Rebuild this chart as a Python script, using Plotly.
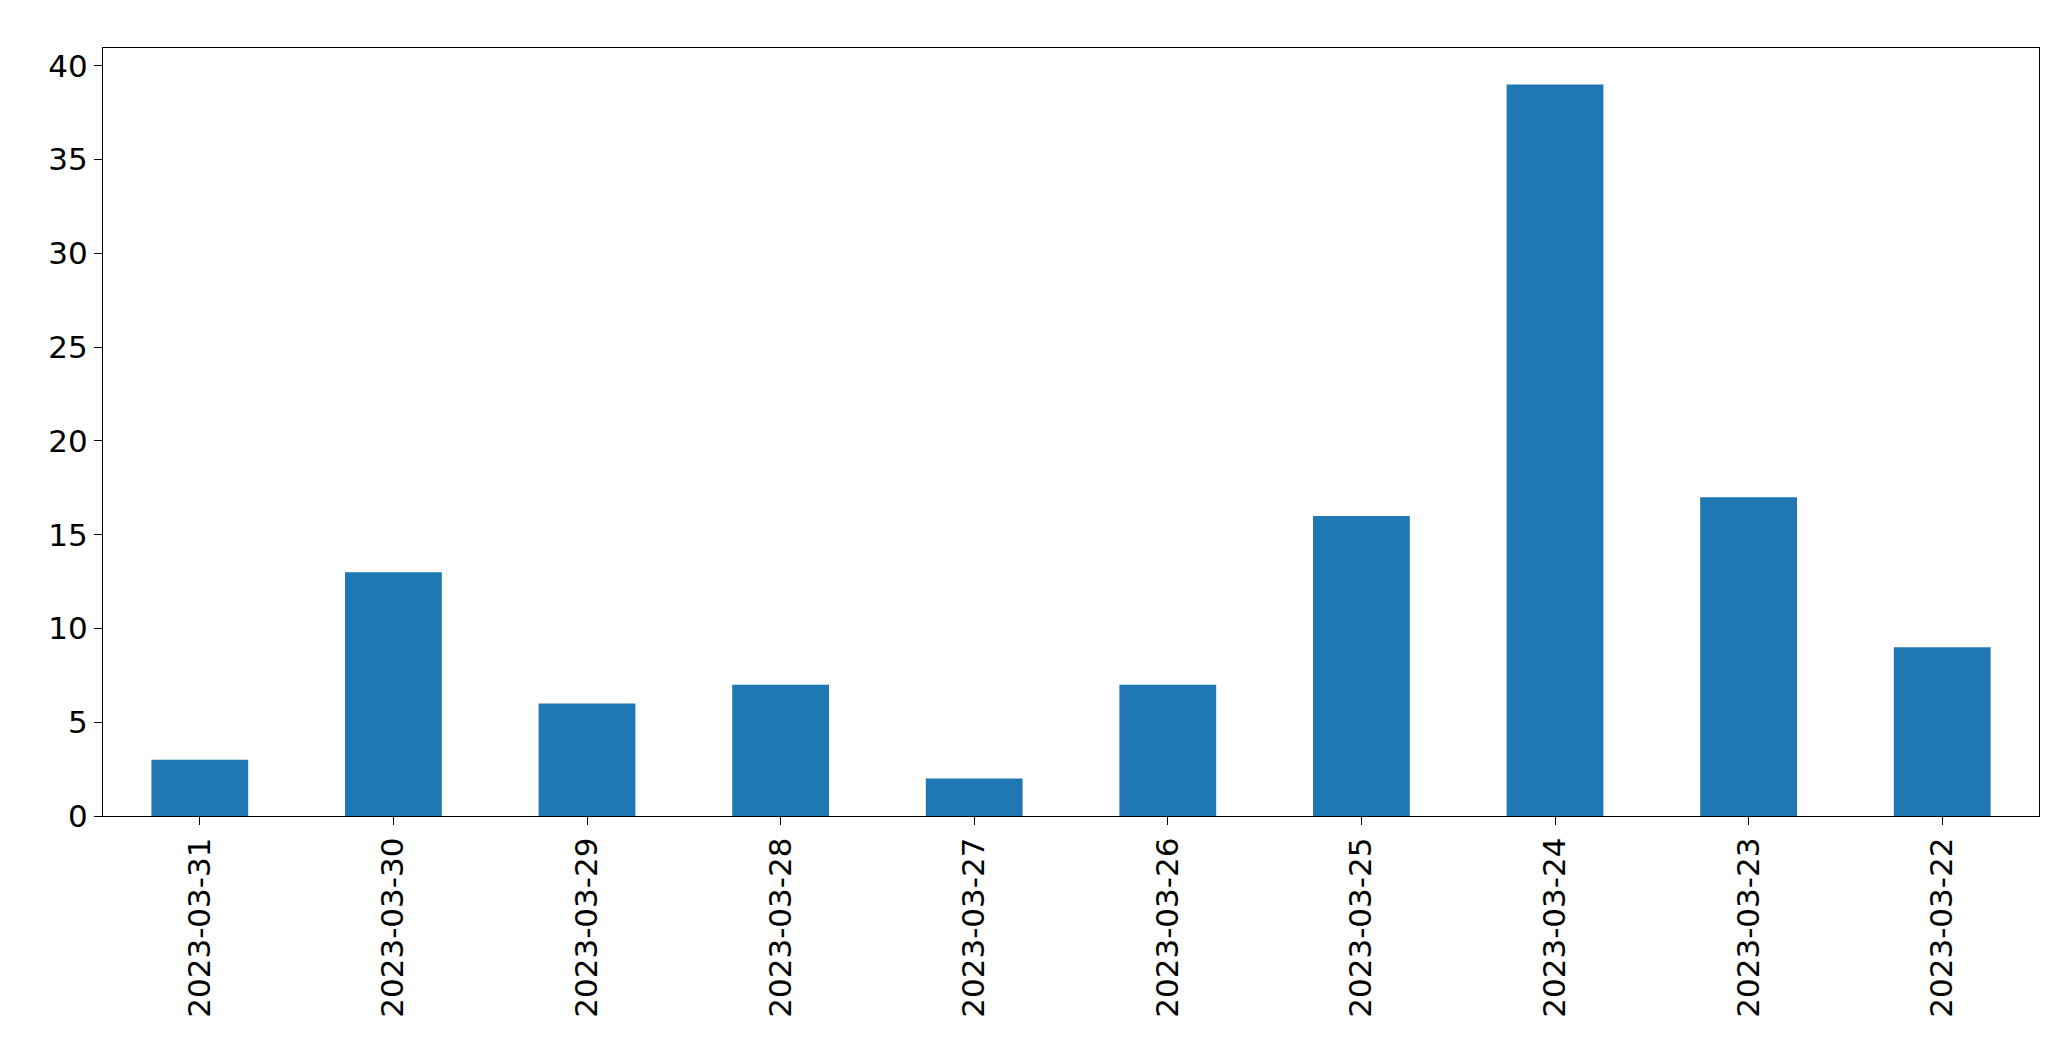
import plotly.graph_objects as go

dates = ["2023-03-31","2023-03-30","2023-03-29","2023-03-28","2023-03-27",
         "2023-03-26","2023-03-25","2023-03-24","2023-03-23","2023-03-22"]
counts = [3, 13, 6, 7, 2, 7, 16, 39, 17, 9]

fig = go.Figure(go.Bar(x=dates, y=counts, width=0.5, marker_color="#1f77b4", marker_line_width=0))
fig.update_layout(
    width=2071, height=1061, plot_bgcolor="white", paper_bgcolor="white",
    margin=dict(l=95, r=40, t=40, b=253),
    font=dict(family="DejaVu Sans", size=31, color="black"),
    showlegend=False,
)
fig.update_xaxes(type="category", range=[-0.5, 9.5], tickangle=-90, showline=True, mirror=True,
                 linecolor="black", linewidth=1.3, ticks="outside", ticklen=8, tickcolor="black", showgrid=False)
fig.update_yaxes(range=[0, 40.95], tickvals=[0,5,10,15,20,25,30,35,40], showline=True, mirror=True,
                 linecolor="black", linewidth=1.3, ticks="outside", ticklen=8, tickcolor="black",
                 showgrid=False, zeroline=False)
fig.write_html("out.html")
